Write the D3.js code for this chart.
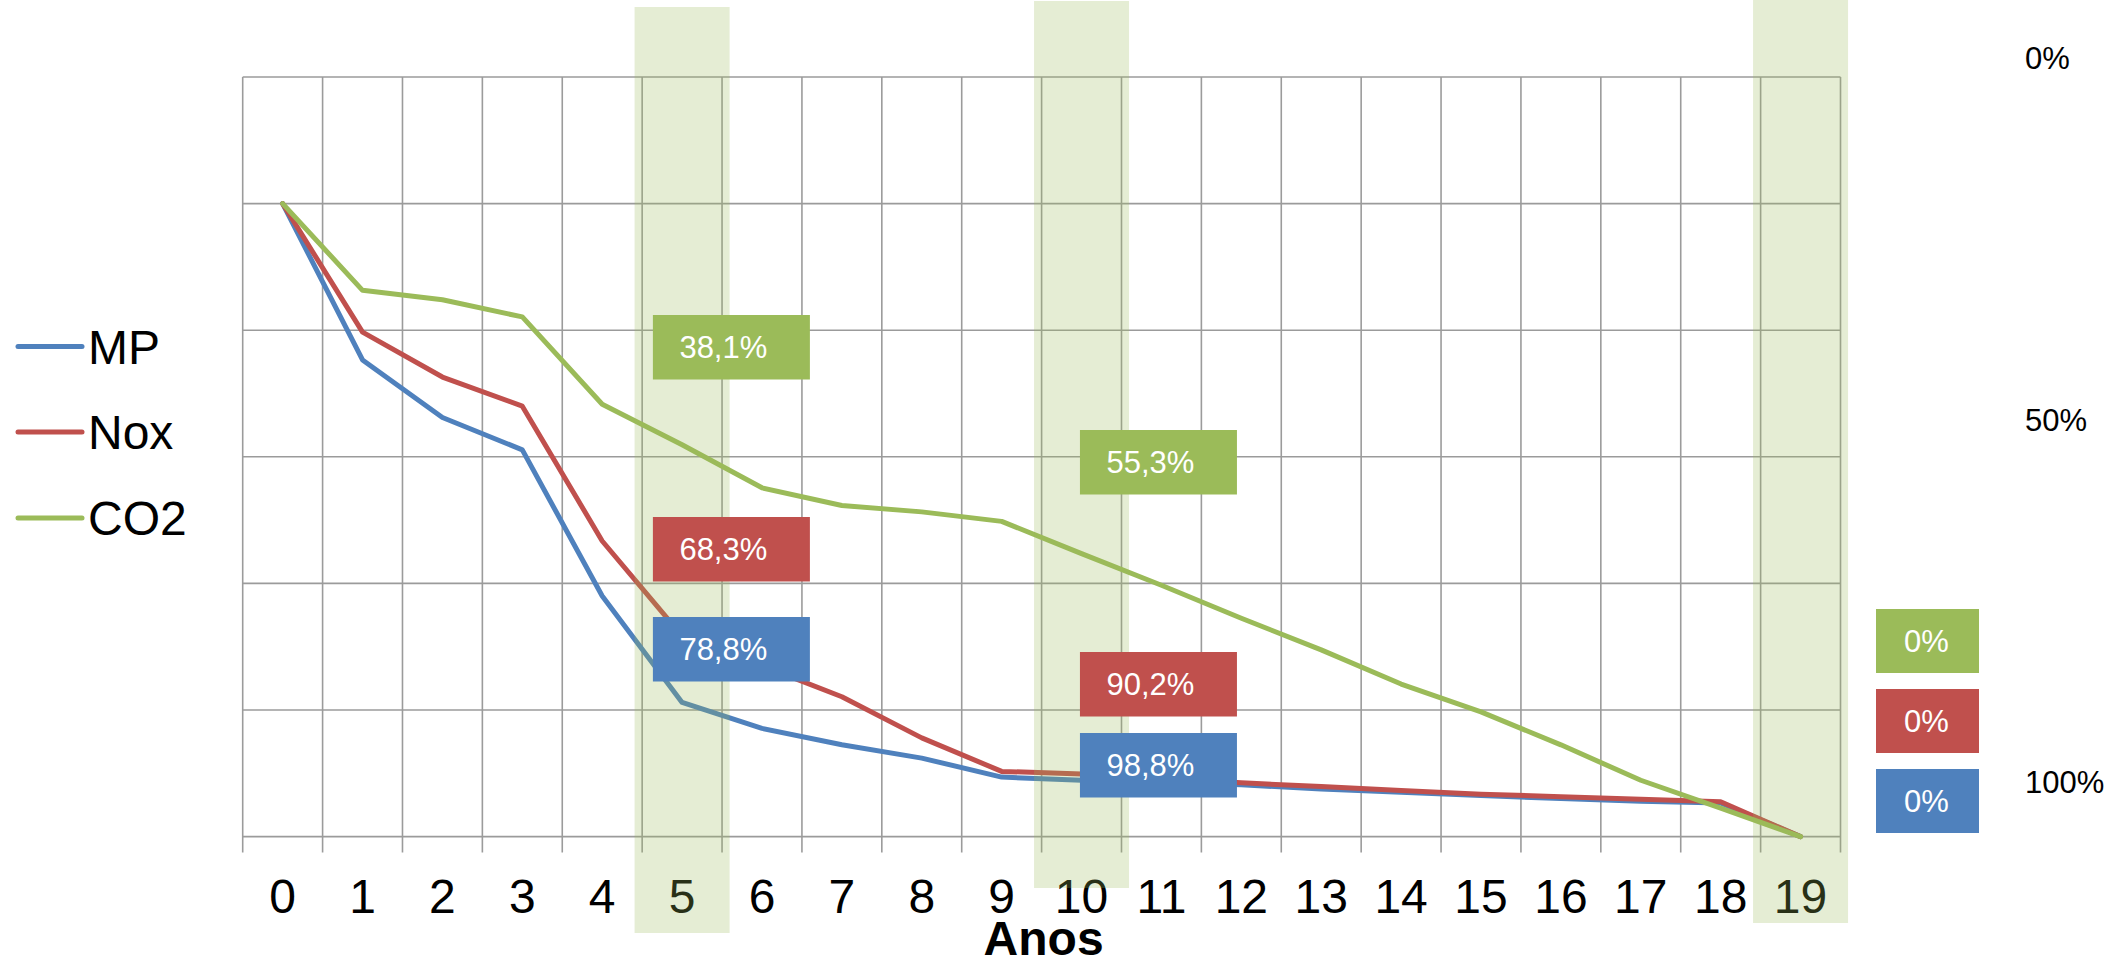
<!DOCTYPE html>
<html>
<head>
<meta charset="utf-8">
<script src="https://cdn.jsdelivr.net/npm/d3@7"></script>
<style>
  html, body { margin: 0; padding: 0; background: #ffffff; }
  svg { display: block; font-family: "Liberation Sans", Arial, sans-serif; }
</style>
</head>
<body>
<svg id="chart" width="2126" height="965"></svg>
<script>
// ---------- DATA ----------
const years = [0,1,2,3,4,5,6,7,8,9,10,11,12,13,14,15,16,17,18,19];
const seriesNames = ["MP", "Nox", "CO2"];
// remaining emissions (% of year 0)
const mpValues  = [100, 75.3, 66.2, 61.1, 38.0, 21.2, 17.1, 14.5, 12.4, 9.4, 8.9, 8.6, 8.2, 7.5, 7.0, 6.5, 6.0, 5.6, 5.3, 0];
const noxValues = [100, 79.7, 72.6, 68.0, 46.7, 31.7, 27.0, 22.1, 15.6, 10.3, 9.9, 9.2, 8.5, 7.9, 7.3, 6.7, 6.3, 5.9, 5.5, 0];
const co2Values = [100, 86.3, 84.8, 82.1, 68.3, 61.9, 55.1, 52.3, 51.3, 49.8, 44.7, 39.7, 34.5, 29.5, 24.1, 19.7, 14.5, 8.9, 4.5, 0];
const yTicks = [0, 20, 40, 60, 80, 100, 120];
const highlightYears = [5, 10, 19];
const labelSeries = ["CO2", "Nox", "MP", "CO2", "Nox", "MP"];
const labelYears  = [5, 5, 5, 10, 10, 10];
const labelTexts  = ["38,1%", "68,3%", "78,8%", "55,3%", "90,2%", "98,8%"];
const endLabelSeries = ["CO2", "Nox", "MP"];
const endLabelTexts  = ["0%", "0%", "0%"];
const rightAxisTicks = [0, 50, 100];
const rightAxisLabels = ["0%", "50%", "100%"];
const xTitle = "Anos";

// ---------- STYLE / LAYOUT ----------
const colors = { MP: "#4f81bd", Nox: "#c0504d", CO2: "#9bbb59" };
const plot = { left: 242.7, right: 1840.5, top: 77, bottom: 836.6 };
const gridColor = "#9b9b9b";
const bandLayout = { width: 95, tops: [7, 1, 0], bottoms: [933, 888, 923] };
const labelBox = { w: 157, h: 64.5, dx: { 5: -29.2, 10: -1.6 }, tops: [315, 517, 617, 430, 652, 733] };
const endBox = { x: 1876, w: 103, h: 64, tops: [609, 689, 769] };
const legend = { lineX1: 18, lineX2: 82, textX: 88, ys: [346.5, 432, 518] };

const svg = d3.select("#chart");
svg.append("rect").attr("width", 2126).attr("height", 965).attr("fill", "#fff");

const x = d3.scaleBand().domain(years).range([plot.left, plot.right]).padding(0);
const cx = d => x(d) + x.bandwidth() / 2;
const y = d3.scaleLinear().domain([0, 120]).range([plot.bottom, plot.top]);

// horizontal gridlines
svg.append("g").selectAll("line").data(yTicks).join("line")
  .attr("x1", plot.left).attr("x2", plot.right)
  .attr("y1", d => y(d)).attr("y2", d => y(d))
  .attr("stroke", gridColor).attr("stroke-width", 1.6);

// vertical gridlines at category boundaries (+ ticks below axis)
const boundaries = years.map(d => x(d)).concat([plot.right]);
svg.append("g").selectAll("line").data(boundaries).join("line")
  .attr("x1", d => d).attr("x2", d => d)
  .attr("y1", plot.top).attr("y2", plot.bottom + 16)
  .attr("stroke", gridColor).attr("stroke-width", 1.6);

// x-axis labels
const xAxis = d3.axisBottom(x).tickSize(0).tickPadding(0);
const gx = svg.append("g").attr("transform", `translate(0, ${plot.bottom})`).call(xAxis);
gx.select(".domain").remove();
gx.selectAll("text")
  .attr("y", 76.5).attr("dy", null)
  .attr("font-size", 48).attr("fill", "#000")
  .attr("font-family", "Liberation Sans, Arial, sans-serif");

// x title
svg.append("text").attr("x", (plot.left + plot.right) / 2 + 2).attr("y", 955)
  .attr("text-anchor", "middle").attr("font-size", 48).attr("font-weight", "bold")
  .text(xTitle);

// lines
const seriesData = { MP: mpValues, Nox: noxValues, CO2: co2Values };
const line = d3.line().x((d, i) => cx(years[i])).y(d => y(d));
seriesNames.forEach(name => {
  svg.append("path").datum(seriesData[name])
    .attr("d", line).attr("fill", "none")
    .attr("stroke", colors[name]).attr("stroke-width", 5)
    .attr("stroke-linejoin", "round").attr("stroke-linecap", "round");
});

// highlight bands (semi transparent, on top)
svg.append("g").selectAll("rect").data(highlightYears).join("rect")
  .attr("x", d => cx(d) - bandLayout.width / 2)
  .attr("width", bandLayout.width)
  .attr("y", (d, i) => bandLayout.tops[i])
  .attr("height", (d, i) => bandLayout.bottoms[i] - bandLayout.tops[i])
  .attr("fill", "#9bbb59").attr("fill-opacity", 0.26);

// data label boxes
const lg = svg.append("g");
labelTexts.forEach((t, i) => {
  const rx = cx(labelYears[i]) + labelBox.dx[labelYears[i]];
  lg.append("rect").attr("x", rx).attr("y", labelBox.tops[i])
    .attr("width", labelBox.w).attr("height", labelBox.h)
    .attr("fill", colors[labelSeries[i]]);
  lg.append("text").attr("x", rx + 26.5).attr("y", labelBox.tops[i] + labelBox.h / 2 + 11)
    .attr("font-size", 31).attr("fill", "#fff").text(t);
});

// end label boxes
endLabelTexts.forEach((t, i) => {
  lg.append("rect").attr("x", endBox.x).attr("y", endBox.tops[i])
    .attr("width", endBox.w).attr("height", endBox.h)
    .attr("fill", colors[endLabelSeries[i]]);
  lg.append("text").attr("x", endBox.x + endBox.w / 2 - 1).attr("y", endBox.tops[i] + endBox.h / 2 + 11)
    .attr("text-anchor", "middle").attr("font-size", 31).attr("fill", "#fff").text(t);
});

// right-hand scale labels
const yRight = d3.scaleLinear().domain([0, 100]).range([58, 782]);
svg.append("g").selectAll("text").data(rightAxisTicks).join("text")
  .attr("x", 2025).attr("y", d => yRight(d) + 11)
  .attr("font-size", 31).attr("fill", "#000")
  .text((d, i) => rightAxisLabels[i]);

// legend
const leg = svg.append("g");
seriesNames.forEach((name, i) => {
  leg.append("line").attr("x1", legend.lineX1).attr("x2", legend.lineX2)
    .attr("y1", legend.ys[i]).attr("y2", legend.ys[i])
    .attr("stroke", colors[name]).attr("stroke-width", 5).attr("stroke-linecap", "round");
  leg.append("text").attr("x", legend.textX).attr("y", legend.ys[i] + 17)
    .attr("font-size", 48).attr("fill", "#000").text(name);
});
</script>
</body>
</html>
